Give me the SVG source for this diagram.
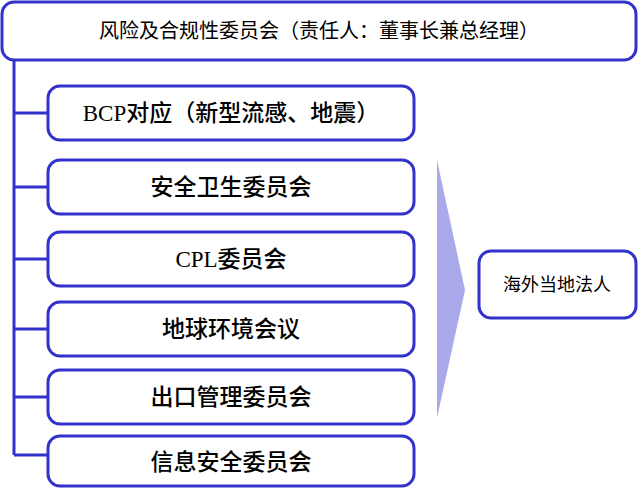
<svg xmlns="http://www.w3.org/2000/svg" width="639" height="488" viewBox="0 0 639 488">
<style>
.b{fill:#fff;stroke:#3333cc;stroke-width:3}
.c{stroke:#3333cc;stroke-width:3;fill:none}
.t{font-family:"Liberation Serif","Noto Sans CJK SC",serif;font-size:23px;font-weight:500;fill:#000;text-anchor:middle}
.s{font-family:"Liberation Sans","Noto Sans CJK SC",sans-serif;font-size:20px;fill:#000;text-anchor:middle}
</style>
<rect width="639" height="488" fill="#fff"/>
<g id="connectors">
<path class="c" d="M14 60V455M14 113H48M14 187H48M14 259H48M14 329H48M14 397H48M14 455H48"/>
<polygon points="437,160 465,290 437,418" fill="#aaaaea"/>
</g>
<g id="top"><rect class="b" x="2" y="2" width="634" height="58" rx="12"/><text class="s" x="319" y="38">风险及合规性委员会（责任人：董事长兼总经理）</text></g>
<g id="n1"><rect class="b" x="48" y="86" width="366" height="54" rx="12"/><text class="t" x="231" y="121">BCP对应（新型流感、地震）</text></g>
<g id="n2"><rect class="b" x="48" y="160" width="366" height="54" rx="12"/><text class="t" x="231" y="195">安全卫生委员会</text></g>
<g id="n3"><rect class="b" x="48" y="232" width="366" height="54" rx="12"/><text class="t" x="231" y="267">CPL委员会</text></g>
<g id="n4"><rect class="b" x="48" y="302" width="366" height="54" rx="12"/><text class="t" x="231" y="337">地球环境会议</text></g>
<g id="n5"><rect class="b" x="48" y="370" width="366" height="54" rx="12"/><text class="t" x="231" y="405">出口管理委员会</text></g>
<g id="n6"><rect class="b" x="48" y="436" width="366" height="50" rx="12"/><text class="t" x="231" y="470">信息安全委员会</text></g>
<g id="right"><rect class="b" x="479" y="251" width="157" height="67" rx="12"/><text class="s" x="557" y="291" style="font-size:18px">海外当地法人</text></g>
</svg>
